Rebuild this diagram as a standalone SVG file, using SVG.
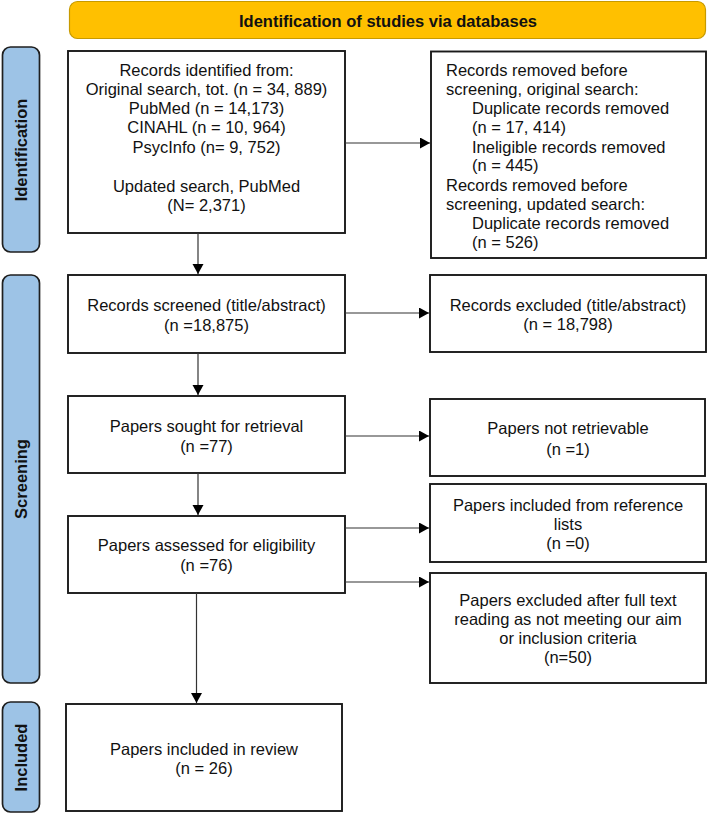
<svg xmlns="http://www.w3.org/2000/svg" width="708" height="815" viewBox="0 0 708 815">
<style>
.box{fill:#fff;stroke:#1a1a1a;stroke-width:1.9}
.side{fill:#9DC3E6;stroke:#1f1f1f;stroke-width:1.7}
.t{font-family:"Liberation Sans",Arial,sans-serif;font-size:16.5px;fill:#111}
.c{text-anchor:middle}
.b{font-weight:bold}
.conn line{stroke:#333;stroke-width:1.2}
</style>
<defs>
<marker id="ah" markerUnits="userSpaceOnUse" markerWidth="11" markerHeight="12" refX="10" refY="5.5" orient="auto">
<path d="M0,0 L10,5.5 L0,11 z" fill="#000"/>
</marker>
</defs>
<g id="header">
<rect x="69.5" y="1.5" width="636" height="37" rx="8" fill="#FFC000" stroke="#C79A00" stroke-width="1.2"/>
<text class="t c b" x="388" y="26.5">Identification of studies via databases</text>
</g>
<g id="label-identification">
<rect class="side" x="2.5" y="47" width="37" height="205" rx="8"/>
<text class="t c b" x="27" y="150" transform="rotate(-90 27 150)">Identification</text>
</g>
<g id="label-screening">
<rect class="side" x="2.5" y="275" width="37" height="408" rx="8"/>
<text class="t c b" x="27" y="479" transform="rotate(-90 27 479)">Screening</text>
</g>
<g id="label-included">
<rect class="side" x="2.5" y="702" width="37" height="110" rx="8"/>
<text class="t c b" x="27" y="757.5" transform="rotate(-90 27 757.5)">Included</text>
</g>
<g id="records-identified">
<rect class="box" x="68" y="51" width="277" height="182"/>
<text class="t c" x="206.5" y="76">Records identified from:</text>
<text class="t c" x="206.5" y="95">Original search, tot. (n = 34, 889)</text>
<text class="t c" x="206.5" y="114">PubMed (n = 14,173)</text>
<text class="t c" x="206.5" y="133">CINAHL (n = 10, 964)</text>
<text class="t c" x="206.5" y="152.5">PsycInfo (n= 9, 752)</text>
<text class="t c" x="206.5" y="191.5">Updated search, PubMed</text>
<text class="t c" x="206.5" y="210.5">(N= 2,371)</text>
</g>
<g id="records-removed">
<rect class="box" x="431" y="51.5" width="275" height="206.5"/>
<text class="t" x="446" y="76">Records removed before</text>
<text class="t" x="446" y="95">screening, original search:</text>
<text class="t" x="472" y="114">Duplicate records removed</text>
<text class="t" x="472" y="133">(n = 17, 414)</text>
<text class="t" x="472" y="152.5">Ineligible records removed</text>
<text class="t" x="472" y="171">(n = 445)</text>
<text class="t" x="446" y="190.5">Records removed before</text>
<text class="t" x="446" y="209.5">screening, updated search:</text>
<text class="t" x="472" y="228.5">Duplicate records removed</text>
<text class="t" x="472" y="248">(n = 526)</text>
</g>
<g id="records-screened">
<rect class="box" x="68" y="275" width="277" height="78"/>
<text class="t c" x="206.5" y="311">Records screened (title/abstract)</text>
<text class="t c" x="206.5" y="331">(n =18,875)</text>
</g>
<g id="records-excluded">
<rect class="box" x="430" y="275" width="276" height="77"/>
<text class="t c" x="568" y="311">Records excluded (title/abstract)</text>
<text class="t c" x="568" y="330">(n = 18,798)</text>
</g>
<g id="papers-sought">
<rect class="box" x="68" y="396" width="277" height="77"/>
<text class="t c" x="206.5" y="432">Papers sought for retrieval</text>
<text class="t c" x="206.5" y="452">(n =77)</text>
</g>
<g id="papers-not-retrievable">
<rect class="box" x="430" y="399" width="275" height="77"/>
<text class="t c" x="568" y="434">Papers not retrievable</text>
<text class="t c" x="568" y="455">(n =1)</text>
</g>
<g id="papers-assessed">
<rect class="box" x="68" y="516" width="277" height="77"/>
<text class="t c" x="206.5" y="551">Papers assessed for eligibility</text>
<text class="t c" x="206.5" y="571">(n =76)</text>
</g>
<g id="papers-reference-lists">
<rect class="box" x="430" y="484" width="276" height="78"/>
<text class="t c" x="568" y="511">Papers included from reference</text>
<text class="t c" x="568" y="530">lists</text>
<text class="t c" x="568" y="549">(n =0)</text>
</g>
<g id="papers-excluded">
<rect class="box" x="430" y="573" width="276" height="110"/>
<text class="t c" x="568" y="606">Papers excluded after full text</text>
<text class="t c" x="568" y="625">reading as not meeting our aim</text>
<text class="t c" x="568" y="644">or inclusion criteria</text>
<text class="t c" x="568" y="663">(n=50)</text>
</g>
<g id="papers-included">
<rect class="box" x="66" y="704" width="276" height="107"/>
<text class="t c" x="204" y="755">Papers included in review</text>
<text class="t c" x="204" y="774">(n = 26)</text>
</g>
<g id="connectors" class="conn">
<line x1="345" y1="143" x2="430" y2="143" marker-end="url(#ah)"/>
<line x1="198" y1="233" x2="198" y2="274" marker-end="url(#ah)"/>
<line x1="345" y1="313" x2="429" y2="313" marker-end="url(#ah)"/>
<line x1="198" y1="353" x2="198" y2="395" marker-end="url(#ah)"/>
<line x1="345" y1="436" x2="429" y2="436" marker-end="url(#ah)"/>
<line x1="198" y1="473" x2="198" y2="515" marker-end="url(#ah)"/>
<line x1="345" y1="528" x2="429" y2="528" marker-end="url(#ah)"/>
<line x1="345" y1="582" x2="429" y2="582" marker-end="url(#ah)"/>
<line x1="196.5" y1="593" x2="196.5" y2="703" marker-end="url(#ah)"/>
</g>
</svg>
